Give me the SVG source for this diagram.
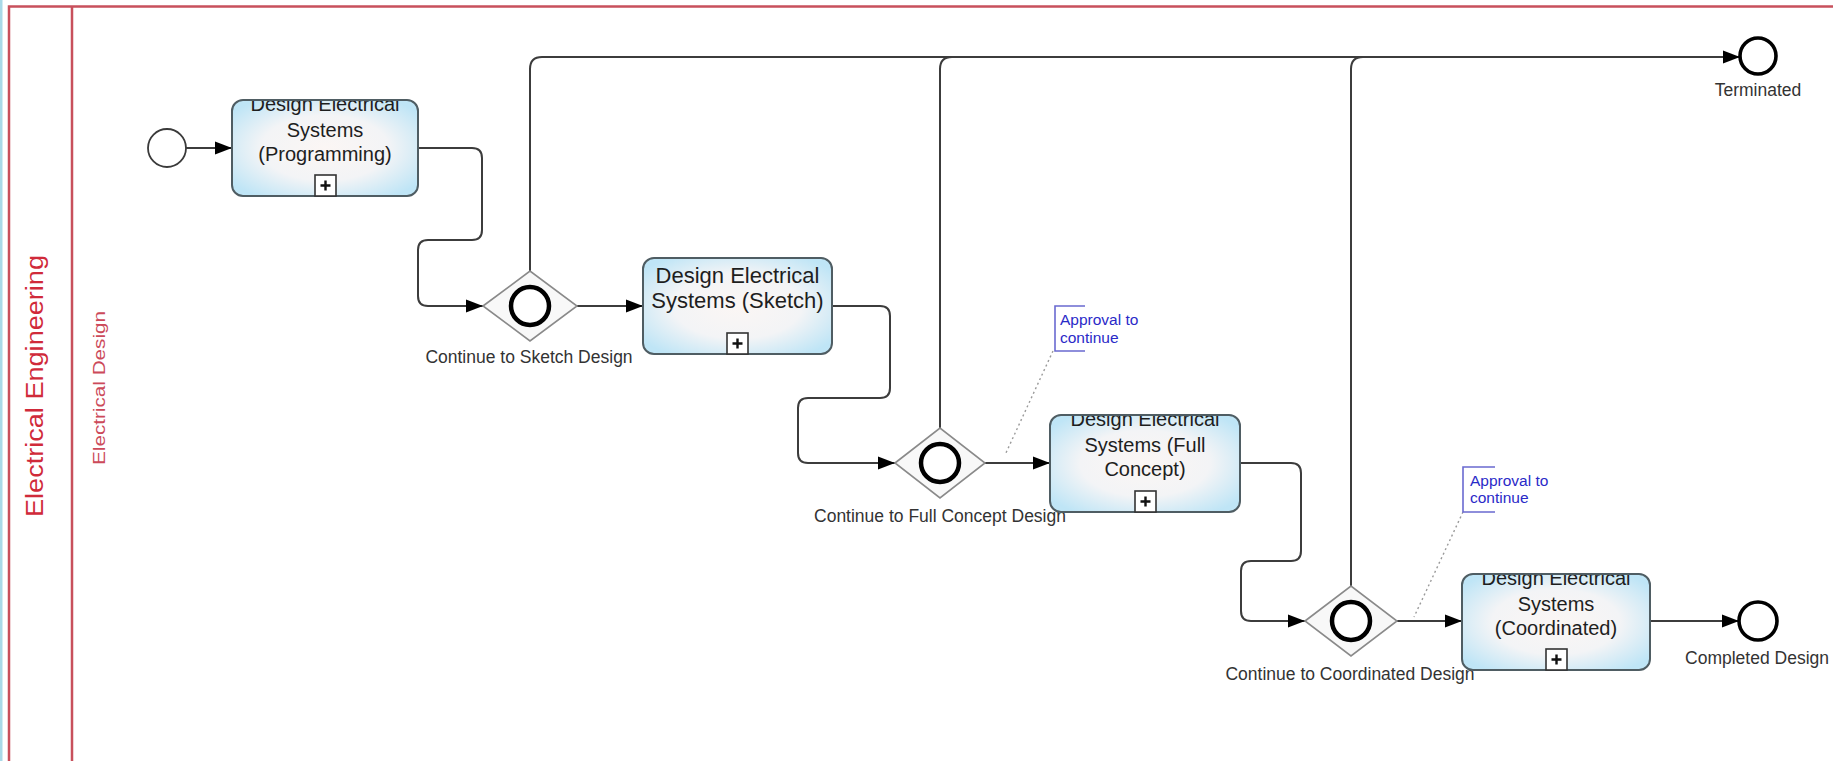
<svg xmlns="http://www.w3.org/2000/svg" width="1833" height="761" viewBox="0 0 1833 761">
  <style>
    .pool { fill: none; stroke: #c8505c; stroke-width: 2.5; }
    .pool-label { font-family: "Liberation Sans", Arial, sans-serif; font-size: 23px; fill: #d02a3a; }
    .lane-label { font-family: "Liberation Sans", Arial, sans-serif; font-size: 16px; fill: #cc4a5a; }
    .task { fill: url(#taskFill); stroke: #4f5d63; stroke-width: 2; }
    .task-text { font-family: "Liberation Sans", Arial, sans-serif; font-size: 20px; fill: #1e1e1e; text-anchor: middle; }
    .task-text.big { font-size: 22px; }
    .plus-box { fill: #ffffff; stroke: #333333; stroke-width: 1.6; }
    .plus { stroke: #111111; stroke-width: 2.4; }
    .gateway { fill: #f8f8f8; stroke: #8a8a8a; stroke-width: 1.6; }
    .gw-ring { fill: #ffffff; stroke: #000000; stroke-width: 4.5; }
    .start { fill: #ffffff; stroke: #3a3a3a; stroke-width: 1.8; }
    .end { fill: #ffffff; stroke: #000000; stroke-width: 3.6; }
    .label { font-family: "Liberation Sans", Arial, sans-serif; font-size: 17.5px; fill: #333333; text-anchor: middle; }
    .flow { fill: none; stroke: #3c3c3c; stroke-width: 2; }
    .arrow { marker-end: url(#arrowhead); }
    .assoc { fill: none; stroke: #9a9a9a; stroke-width: 1.4; stroke-dasharray: 2 3; }
    .note { fill: none; stroke: #6a6ad0; stroke-width: 1.6; }
    .note-text { font-family: "Liberation Sans", Arial, sans-serif; font-size: 15.5px; fill: #2a2ac8; }
  </style>
  <defs>
    <radialGradient id="taskFill" cx="0.5" cy="0.5" r="0.62">
      <stop offset="0" stop-color="#fbf6f4"/>
      <stop offset="0.55" stop-color="#f3f4f6"/>
      <stop offset="1" stop-color="#bfe5f6"/>
    </radialGradient>
    <marker id="arrowhead" markerUnits="userSpaceOnUse" markerWidth="18" markerHeight="14" refX="17" refY="7" orient="auto">
      <path d="M0,0.5 L17,7 L0,13.5 Z" fill="#000000"/>
    </marker>
  </defs>

  <rect width="1833" height="761" fill="#ffffff"/>
  <rect x="0" y="0" width="2.5" height="761" fill="#a9d9e8"/>

  <!-- pool and lane -->
  <g id="pool">
    <path class="pool" d="M9,770 V6.5 H1840"/>
    <line class="pool" x1="72" y1="6.5" x2="72" y2="770"/>
    <text class="pool-label" transform="translate(43,517) rotate(-90)" textLength="262" lengthAdjust="spacingAndGlyphs">Electrical Engineering</text>
    <text class="lane-label" transform="translate(105,465) rotate(-90)" textLength="154" lengthAdjust="spacingAndGlyphs">Electrical Design</text>
  </g>

  <!-- sequence flows -->
  <g id="connectors">
    <path class="flow arrow" d="M186,148 H232"/>
    <path class="flow arrow" d="M418,148 H472 Q482,148 482,158 V230 Q482,240 472,240 H428 Q418,240 418,250 V296 Q418,306 428,306 H483"/>
    <path class="flow arrow" d="M577,306 H643"/>
    <path class="flow arrow" d="M530,271 V69 Q530,57 542,57 H1740"/>
    <path class="flow" d="M940,428 V69 Q940,57 952,57"/>
    <path class="flow" d="M1351,586 V69 Q1351,57 1363,57"/>
    <path class="flow arrow" d="M832,306 H880 Q890,306 890,316 V388 Q890,398 880,398 H808 Q798,398 798,408 V453 Q798,463 808,463 H895"/>
    <path class="flow arrow" d="M985,463 H1050"/>
    <path class="flow arrow" d="M1240,463 H1291 Q1301,463 1301,473 V551 Q1301,561 1291,561 H1251 Q1241,561 1241,571 V611 Q1241,621 1251,621 H1305"/>
    <path class="flow arrow" d="M1397,621 H1462"/>
    <path class="flow arrow" d="M1650,621 H1739"/>
    <path class="assoc" d="M1053,351 L1005,455"/>
    <path class="assoc" d="M1463,512 L1414,617"/>
  </g>

  <g id="start">
    <circle class="start" cx="167" cy="148" r="19"/>
  </g>

  <g id="task-programming">
    <rect class="task" x="232" y="100" width="186" height="96" rx="11"/>
    <svg x="233" y="101" width="184" height="94" overflow="hidden">
      <text class="task-text" x="92" y="10">Design Electrical</text>
      <text class="task-text" x="92" y="36">Systems</text>
      <text class="task-text" x="92" y="60">(Programming)</text>
    </svg>
    <rect class="plus-box" x="315" y="175" width="21" height="21"/>
    <path class="plus" d="M325.5,180.5 V190.5 M320.5,185.5 H330.5"/>
  </g>

  <g id="gateway-sketch">
    <polygon class="gateway" points="483,306 530,271 577,306 530,341"/>
    <circle class="gw-ring" cx="530" cy="306" r="19"/>
    <text class="label" x="529" y="363">Continue to Sketch Design</text>
  </g>

  <g id="task-sketch">
    <rect class="task" x="643" y="258" width="189" height="96" rx="11"/>
    <svg x="644" y="259" width="187" height="94" overflow="hidden">
      <text class="task-text big" x="93.5" y="24">Design Electrical</text>
      <text class="task-text big" x="93.5" y="49">Systems (Sketch)</text>
    </svg>
    <rect class="plus-box" x="727" y="333" width="21" height="21"/>
    <path class="plus" d="M737.5,338.5 V348.5 M732.5,343.5 H742.5"/>
  </g>

  <g id="gateway-full-concept">
    <polygon class="gateway" points="895,463 940,428 985,463 940,498"/>
    <circle class="gw-ring" cx="940" cy="463" r="19"/>
    <text class="label" x="940" y="522">Continue to Full Concept Design</text>
  </g>

  <g id="note-full-concept">
    <path class="note" d="M1085,306 H1055 V351 H1085"/>
    <text class="note-text" x="1060" y="325">Approval to</text>
    <text class="note-text" x="1060" y="343">continue</text>
  </g>

  <g id="task-full-concept">
    <rect class="task" x="1050" y="415" width="190" height="97" rx="11"/>
    <svg x="1051" y="416" width="188" height="95" overflow="hidden">
      <text class="task-text" x="94" y="10">Design Electrical</text>
      <text class="task-text" x="94" y="36">Systems (Full</text>
      <text class="task-text" x="94" y="60">Concept)</text>
    </svg>
    <rect class="plus-box" x="1135" y="491" width="21" height="21"/>
    <path class="plus" d="M1145.5,496.5 V506.5 M1140.5,501.5 H1150.5"/>
  </g>

  <g id="gateway-coordinated">
    <polygon class="gateway" points="1305,621 1351,586 1397,621 1351,656"/>
    <circle class="gw-ring" cx="1351" cy="621" r="19"/>
    <text class="label" x="1350" y="680">Continue to Coordinated Design</text>
  </g>

  <g id="note-coordinated">
    <path class="note" d="M1495,467 H1463 V512 H1495"/>
    <text class="note-text" x="1470" y="486">Approval to</text>
    <text class="note-text" x="1470" y="503">continue</text>
  </g>

  <g id="task-coordinated">
    <rect class="task" x="1462" y="574" width="188" height="96" rx="11"/>
    <svg x="1463" y="575" width="186" height="94" overflow="hidden">
      <text class="task-text" x="93" y="10">Design Electrical</text>
      <text class="task-text" x="93" y="36">Systems</text>
      <text class="task-text" x="93" y="60">(Coordinated)</text>
    </svg>
    <rect class="plus-box" x="1546" y="649" width="21" height="21"/>
    <path class="plus" d="M1556.5,654.5 V664.5 M1551.5,659.5 H1561.5"/>
  </g>

  <g id="end-terminated">
    <circle class="end" cx="1758" cy="56" r="18"/>
    <text class="label" x="1758" y="96">Terminated</text>
  </g>

  <g id="end-completed">
    <circle class="end" cx="1758" cy="621" r="19"/>
    <text class="label" x="1757" y="664">Completed Design</text>
  </g>
</svg>
